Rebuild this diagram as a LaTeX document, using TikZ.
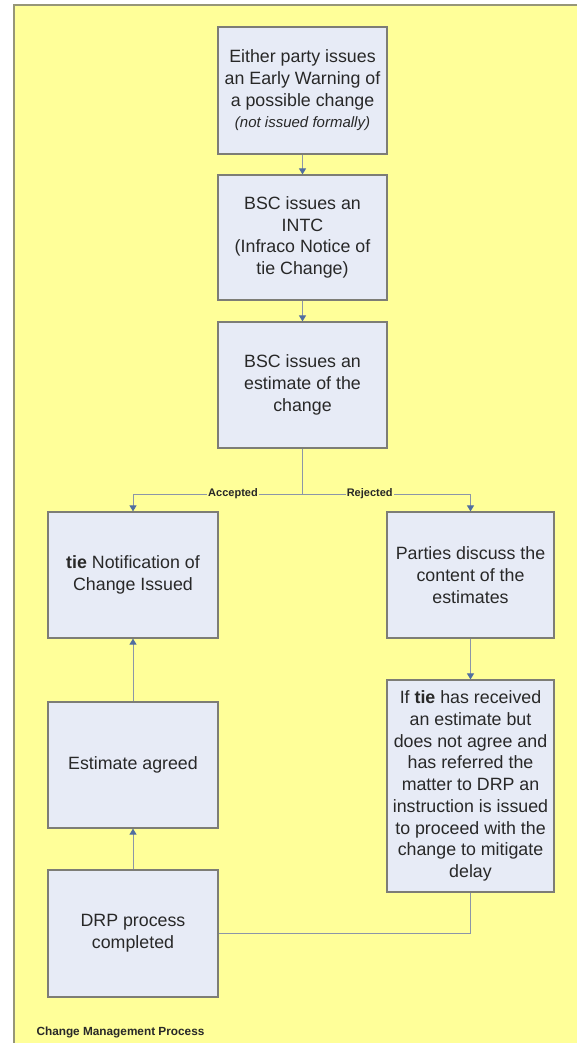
\documentclass[tikz,border=0pt]{standalone}
\usepackage{fontspec}
\setmainfont{Liberation Sans}
\usetikzlibrary{arrows.meta}
\definecolor{bgyellow}{RGB}{255,255,153}
\definecolor{bgborder}{RGB}{150,150,120}
\definecolor{boxfill}{RGB}{231,235,246}
\definecolor{boxline}{RGB}{125,125,118}
\definecolor{conn}{RGB}{140,150,168}
\definecolor{tipc}{RGB}{80,110,160}
\definecolor{txt}{RGB}{40,40,40}
\begin{document}
\begin{tikzpicture}[x=1pt,y=-1pt,
  proc/.style={draw=boxline, line width=1.2pt, fill=boxfill, text=txt, align=center,
    font=\fontsize{17.8}{21.7}\selectfont, inner sep=0pt},
  arr/.style={draw=conn, line width=1pt, -{Triangle[width=7pt,length=6pt,color=tipc]}},
  ln/.style={draw=conn, line width=1pt},
  lbl/.style={fill=bgyellow, inner sep=1pt, text=txt, font=\fontsize{11}{12}\selectfont\bfseries}]
\useasboundingbox (0,0) rectangle (577,1043);
\fill[bgyellow] (14,5) rectangle (578,1044);
\draw[bgborder, line width=1.5pt] (14,1044) -- (14,5) -- (578,5);

\node[proc, minimum width=169pt, minimum height=127pt] (b1) at (302.5,90.5)
  {Either party issues\\an Early Warning of\\a possible change\\{\fontsize{15}{21.7}\selectfont\itshape (not issued formally)}};
\node[proc, minimum width=169pt, minimum height=125pt] (b2) at (302.5,237.5)
  {BSC issues an\\INTC\\(Infraco Notice of\\tie Change)};
\node[proc, minimum width=169pt, minimum height=126pt] (b3) at (302.5,385)
  {BSC issues an\\estimate of the\\change};
\node[proc, minimum width=170pt, minimum height=126pt] (tn) at (133,575)
  {\textbf{tie} Notification of\\Change Issued};
\node[proc, minimum width=167pt, minimum height=126pt] (pd) at (470.5,575)
  {Parties discuss the\\content of the\\estimates};
\node[proc, minimum width=170pt, minimum height=126pt] (ea) at (133,765)
  {Estimate agreed};
\node[proc, minimum width=167pt, minimum height=212pt] (ifb) at (470.5,786)
  {If \textbf{tie} has received\\an estimate but\\does not agree and\\has referred the\\matter to DRP an\\instruction is issued\\to proceed with the\\change to mitigate\\delay};
\node[proc, minimum width=170pt, minimum height=127pt] (drp) at (133,933.5)
  {DRP process\\completed};

\node[anchor=west, text=txt, font=\fontsize{11.8}{13}\selectfont\bfseries] (cap) at (33,1032)
  {Change Management Process};

\coordinate (br) at (302.5,494);
\draw[arr] (b1) -- (b2);
\draw[arr] (b2) -- (b3);
\draw[ln] (b3.south) -- (br);
\draw[arr] (br) -| node[lbl,pos=0.205]{Accepted} (tn.north);
\draw[arr] (br) -| node[lbl,pos=0.2]{Rejected} (pd.north);
\draw[arr] (pd) -- (ifb);
\draw[ln] (ifb.south) |- (drp.east);
\draw[arr] (drp) -- (ea);
\draw[arr] (ea) -- (tn);
\end{tikzpicture}
\end{document}
